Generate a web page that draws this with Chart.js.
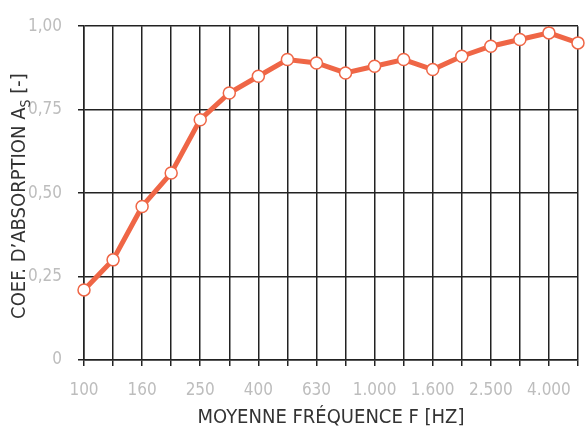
<!DOCTYPE html>
<html><head><meta charset="utf-8">
<script src="https://cdn.jsdelivr.net/npm/chart.js@4"></script>
<style>html,body{margin:0;padding:0;background:#fff}#wrap{width:588px;height:430px}</style>
</head><body><div id="wrap"><canvas id="c" width="588" height="430"></canvas></div>
<script>
const categories = ['100','125','160','200','250','315','400','500','630','800','1.000','1.250','1.600','2.000','2.500','3.150','4.000','5.000'];
const absorption = [0.21,0.30,0.46,0.56,0.72,0.80,0.85,0.90,0.89,0.86,0.88,0.90,0.87,0.91,0.94,0.96,0.98,0.95];
const yTicks = [0,0.25,0.5,0.75,1];
const xTitle = 'MOYENNE FRÉQUENCE F [HZ]';
const yTitleMain = 'COEF. D\u2019ABSORPTION A';
const yTitleSub = 'S';
const yTitleEnd = ' [-]';

const FONT = "'Liberation Sans Narrow','DejaVu Sans Condensed','Roboto Condensed',sans-serif";

const yTitlePlugin = {
  id:'yTitle',
  afterDraw(chart){
    const ctx = chart.ctx;
    const a = chart.chartArea;
    ctx.save();
    ctx.translate(20, (a.top+a.bottom)/2 + 3);
    ctx.rotate(-Math.PI/2);
    ctx.fillStyle = '#333';
    ctx.textBaseline = 'middle';
    const big = "300 20px " + FONT, small = "300 14px " + FONT;
    ctx.font = big; const w1 = ctx.measureText(yTitleMain).width, w3 = ctx.measureText(yTitleEnd).width;
    ctx.font = small; const w2 = ctx.measureText(yTitleSub).width;
    let x = -(w1+w2+w3)/2;
    ctx.font = big; ctx.textAlign='left'; ctx.fillText(yTitleMain, x, 0); x += w1;
    ctx.font = small; ctx.fillText(yTitleSub, x, 6); x += w2;
    ctx.font = big; ctx.fillText(yTitleEnd, x, 0);
    ctx.restore();
  }
};

new Chart(document.getElementById('c'), {
  type:'line',
  data:{labels:categories, datasets:[{
    data:absorption,
    borderColor:'#ef6646',
    borderWidth:5,
    pointRadius:6,
    pointBorderWidth:1.5,
    pointBackgroundColor:'#fff',
    pointBorderColor:'#ef6646',
    tension:0,
    clip:false
  }]},
  options:{
    responsive:false, animation:false,
    layout:{padding:{left:0,right:10,top:26,bottom:0}},
    plugins:{legend:{display:false}, tooltip:{enabled:false}},
    scales:{
      x:{
        offset:false,
        afterFit:(ax)=>{ax.height = 70; ax.paddingRight = 0; ax.paddingLeft = 0;},
        grid:{color:'#222', lineWidth:1.5, drawTicks:true, tickLength:6, tickColor:'#222'},
        border:{color:'#222', width:1.5},
        ticks:{color:'#bdbdbd', font:{family:FONT, size:17, weight:300}, autoSkip:false, maxRotation:0, padding:14,
          callback:(v,i)=> i%2===0 ? categories[i] : ''},
        title:{display:true, text:xTitle, color:'#333', font:{family:FONT, size:20, weight:300}, padding:{top:0,bottom:0}}
      },
      y:{
        min:0, max:1,
        afterBuildTicks:(ax)=>{ax.ticks = yTicks.map(v=>({value:v}));},
        afterFit:(ax)=>{ax.width = 84;},
        grid:{color:'#222', lineWidth:1.5, tickLength:6, tickColor:'#222'},
        border:{color:'#222', width:1.5},
        ticks:{color:'#bdbdbd', font:{family:FONT, size:17, weight:300}, padding:16,
          callback:(v)=> v===0 ? '0' : v.toFixed(2).replace('.',',')}
      }
    }
  },
  plugins:[yTitlePlugin]
});
</script></body></html>
